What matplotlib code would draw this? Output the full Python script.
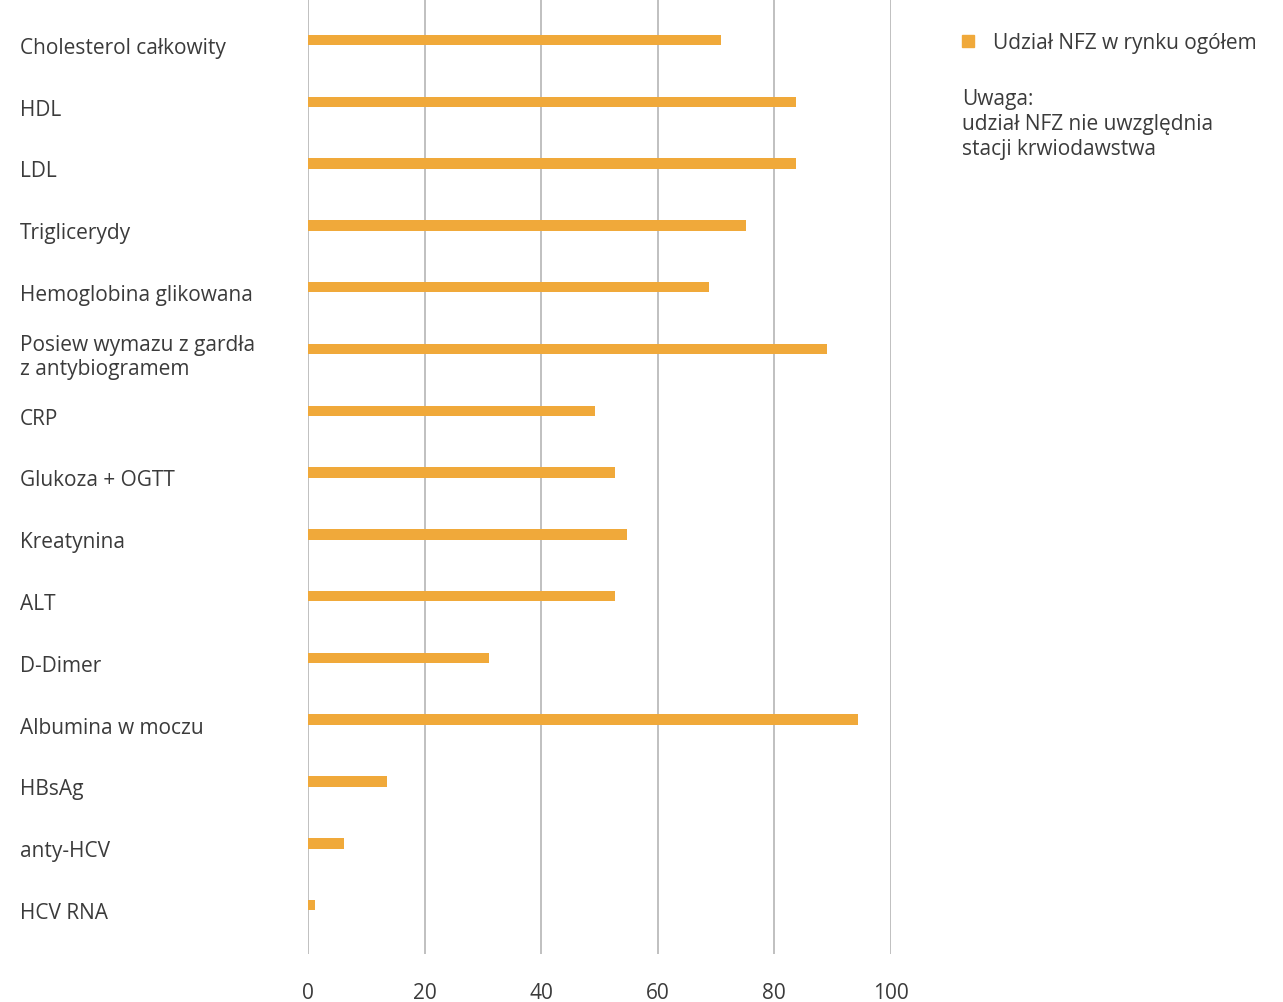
import numpy as np
import matplotlib.pyplot as plt
from matplotlib.lines import Line2D
from matplotlib.transforms import blended_transform_factory

plt.rcParams['font.family'] = ['Open Sans', 'DejaVu Sans']

categories = [
    'Cholesterol całkowity', 'HDL', 'LDL', 'Triglicerydy',
    'Hemoglobina glikowana', 'Posiew wymazu z gardła\nz antybiogramem',
    'CRP', 'Glukoza + OGTT', 'Kreatynina', 'ALT', 'D-Dimer',
    'Albumina w moczu', 'HBsAg', 'anty-HCV', 'HCV RNA',
]
nfz_share = [70.9, 83.8, 83.8, 75.2, 68.8, 89.0, 49.3, 52.7, 54.8, 52.7,
             31.0, 94.3, 13.5, 6.2, 1.2]
x_ticks = [0, 20, 40, 60, 80, 100]
legend_label = 'Udział NFZ w rynku ogółem'
note = 'Uwaga:\nudział NFZ nie uwzględnia\nstacji krwiodawstwa'

bar_color = '#F0A93A'
text_color = '#3b3b3b'
grid_color = '#b5b5b5'
fs = 15

fig = plt.figure(figsize=(12.83, 10.03), dpi=100)
ax = fig.add_axes([0.2400, 0.0479, 0.4544, 0.9521])

y = np.arange(len(categories))
ax.barh(y, nfz_share, height=0.17, color=bar_color, zorder=3)

ax.set_xlim(0, 100)
ax.set_ylim(14.79, -0.663)
ax.set_xticks(x_ticks)
ax.set_xticklabels([str(t) for t in x_ticks], fontsize=fs, color=text_color)
ax.tick_params(axis='x', length=0, pad=20)
ax.set_yticks([])
for xt in x_ticks:
    ax.axvline(xt, color=grid_color, linewidth=1.2, zorder=1)
for s in ax.spines.values():
    s.set_visible(False)

# category labels, left-aligned near the figure edge
label_tr = blended_transform_factory(fig.transFigure, ax.transData)
for i, lab in enumerate(categories):
    ax.text(20 / 1283, i + 0.12, lab, transform=label_tr,
            ha='left', va='center', fontsize=fs, color=text_color, linespacing=1.2)

handle = Line2D([0], [0], marker='s', linestyle='', color=bar_color, markersize=9)
fig.legend([handle], [legend_label], loc='upper left', bbox_to_anchor=(0.740, 0.975),
           frameon=False, fontsize=fs, handlelength=1.0, handletextpad=0.7,
           borderaxespad=0, labelcolor=text_color)
fig.text(962 / 1283, 1 - 89 / 1003, note, ha='left', va='top', fontsize=fs,
         color=text_color, linespacing=1.25)

fig.savefig('out.png', dpi=100, facecolor='white')
